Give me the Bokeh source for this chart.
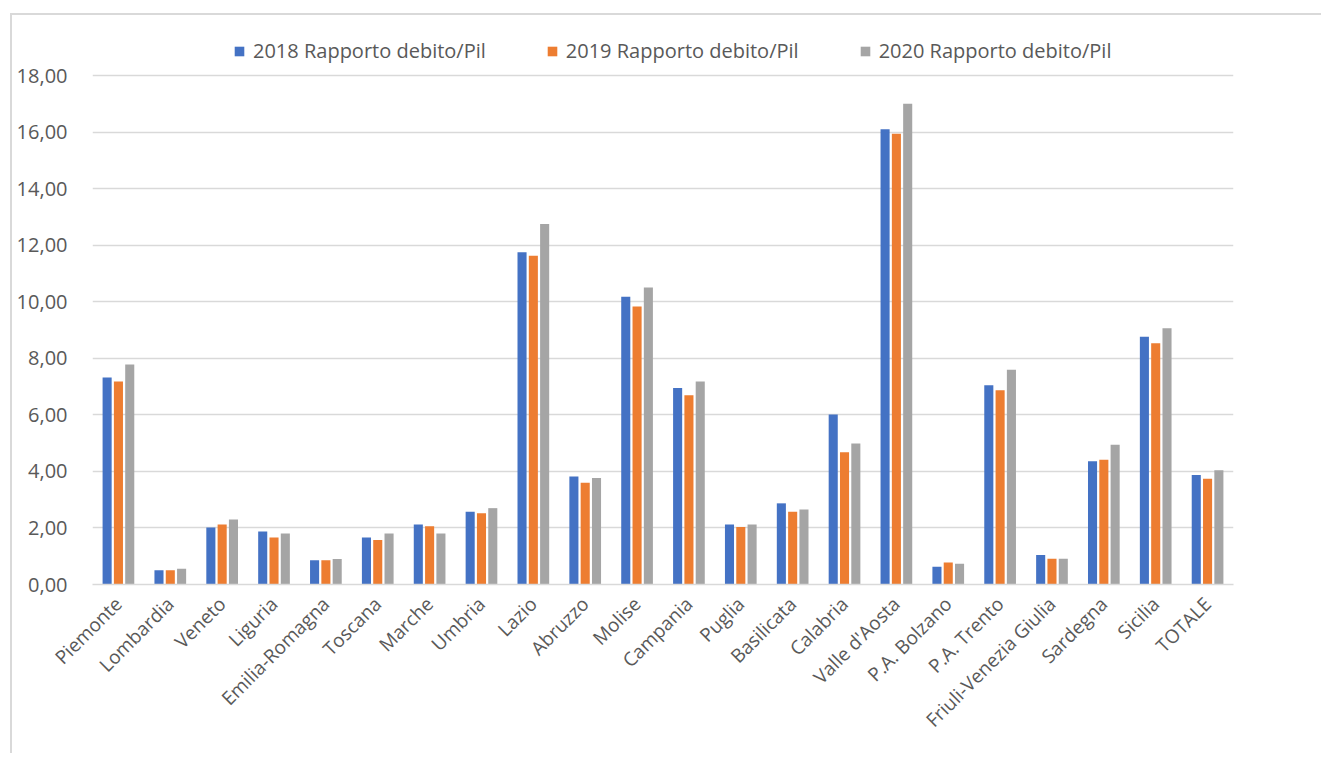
import math
from bokeh.plotting import figure
from bokeh.models import ColumnDataSource, Range1d, FixedTicker, Legend, LegendItem
from bokeh.transform import dodge
from bokeh.embed import file_html
from bokeh.resources import INLINE

regions = ["Piemonte", "Lombardia", "Veneto", "Liguria", "Emilia-Romagna", "Toscana",
           "Marche", "Umbria", "Lazio", "Abruzzo", "Molise", "Campania", "Puglia",
           "Basilicata", "Calabria", "Valle d'Aosta", "P.A. Bolzano", "P.A. Trento",
           "Friuli-Venezia Giulia", "Sardegna", "Sicilia", "TOTALE"]
v2018 = [7.32, 0.50, 2.02, 1.87, 0.86, 1.66, 2.12, 2.57, 11.75, 3.82, 10.18, 6.95,
         2.12, 2.87, 6.01, 16.10, 0.63, 7.05, 1.04, 4.36, 8.76, 3.87]
v2019 = [7.18, 0.50, 2.12, 1.66, 0.86, 1.57, 2.06, 2.52, 11.63, 3.60, 9.83, 6.69,
         2.03, 2.57, 4.68, 15.94, 0.78, 6.87, 0.91, 4.41, 8.53, 3.74]
v2020 = [7.78, 0.56, 2.30, 1.80, 0.90, 1.80, 1.80, 2.70, 12.75, 3.77, 10.50, 7.18,
         2.12, 2.65, 4.99, 17.00, 0.73, 7.59, 0.91, 4.94, 9.06, 4.04]
series_names = ["2018 Rapporto debito/Pil", "2019 Rapporto debito/Pil", "2020 Rapporto debito/Pil"]
y_ticks = [0, 2, 4, 6, 8, 10, 12, 14, 16, 18]
y_tick_labels = ["0,00", "2,00", "4,00", "6,00", "8,00", "10,00", "12,00", "14,00", "16,00", "18,00"]

colors = ["#4472C4", "#ED7D31", "#A5A5A5"]
FONT = "Open Sans"
TXT = "#595959"
GRID = "#D9D9D9"

idx = list(range(len(regions)))
src = ColumnDataSource(dict(x=idx, v2018=v2018, v2019=v2019, v2020=v2020))

# frame top extended above the 18 gridline to host the legend (same scale as 0..18 over 509px)
p = figure(width=1311, height=740, output_backend="svg", toolbar_location=None,
           x_range=Range1d(-0.5, 21.5), y_range=Range1d(0, 19.945),
           min_border_left=80, min_border_right=90, min_border_top=5, min_border_bottom=171)
p.styles = {"margin-top": "13px", "margin-left": "10px",
            "border-left": "2px solid #D9D9D9", "border-top": "2px solid #D9D9D9"}
p.outline_line_color = None
p.background_fill_color = "white"
p.border_fill_color = "white"

renderers = []
offsets = [-0.218, 0.0, 0.218]
for col, off, c in zip(["v2018", "v2019", "v2020"], offsets, colors):
    r = p.vbar(x=dodge("x", off, range=p.x_range), top=col, width=0.175, bottom=0,
               source=src, fill_color=c, line_color=None)
    renderers.append(r)

p.xgrid.grid_line_color = None
p.ygrid.grid_line_color = GRID
p.ygrid.grid_line_width = 1.5
p.yaxis.ticker = FixedTicker(ticks=y_ticks)
p.yaxis.major_label_overrides = {t: l for t, l in zip(y_ticks, y_tick_labels)}
p.yaxis.axis_line_color = None
p.yaxis.major_tick_line_color = None
p.yaxis.minor_tick_line_color = None
p.yaxis.major_label_standoff = 19
p.yaxis.major_label_text_font = FONT
p.yaxis.major_label_text_font_size = "20px"
p.yaxis.major_label_text_color = TXT

p.xaxis.ticker = FixedTicker(ticks=idx)
p.xaxis.major_label_overrides = {i: n for i, n in zip(idx, regions)}
p.xaxis.axis_line_color = GRID
p.xaxis.axis_line_width = 1.5
p.xaxis.major_tick_line_color = None
p.xaxis.minor_tick_line_color = None
p.xaxis.major_label_orientation = math.pi / 4
p.xaxis.major_label_standoff = 10
p.xaxis.major_label_text_font = FONT
p.xaxis.major_label_text_font_size = "19px"
p.xaxis.major_label_text_color = TXT

legend = Legend(items=[LegendItem(label=n, renderers=[r]) for n, r in zip(series_names, renderers)],
                orientation="horizontal", location=(141, 520))
legend.border_line_color = None
legend.background_fill_alpha = 0
legend.label_text_font = FONT
legend.label_text_font_size = "20px"
legend.label_text_color = TXT
legend.glyph_width = 12
legend.glyph_height = 12
legend.label_standoff = 8
legend.spacing = 60
legend.padding = 4
legend.margin = 0
p.add_layout(legend)

open("out.html", "w").write(file_html(p, INLINE))
